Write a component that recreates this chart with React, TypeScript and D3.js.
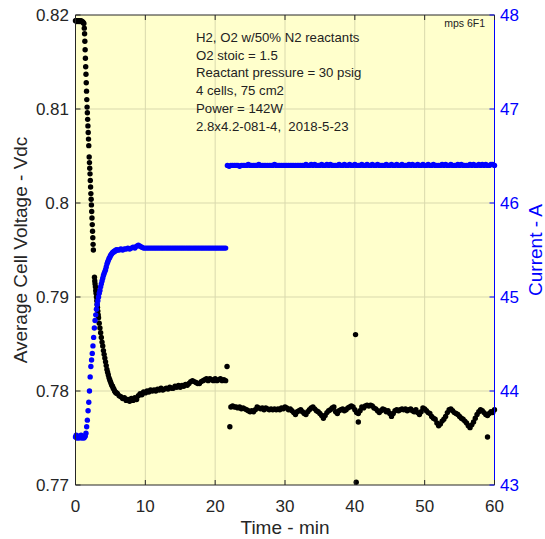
import React from "react";
import * as d3 from "d3";

// ---------- axes / labels ----------
const timeTicks = [0, 10, 20, 30, 40, 50, 60];
const voltTicks = [0.77, 0.78, 0.79, 0.8, 0.81, 0.82];
const voltTickLabels = ["0.77", "0.78", "0.79", "0.8", "0.81", "0.82"];
const currTicks = [43, 44, 45, 46, 47, 48];
const currTickLabels = ["43", "44", "45", "46", "47", "48"];
const xTitle = "Time - min";
const yLeftTitle = "Average Cell Voltage - Vdc";
const yRightTitle = "Current - A";
const cornerTag = "mps 6F1";
const annotationLines = [
  "H2, O2 w/50% N2 reactants",
  "O2 stoic = 1.5",
  "Reactant pressure = 30 psig",
  "4 cells, 75 cm2",
  "Power = 142W",
  "2.8x4.2-081-4,  2018-5-23",
];

// ---------- voltage (black, left axis) ----------
// early part, [time min, volts]
const voltEarly: [number, number][] = [
  [0.0, 0.8194], [0.1, 0.8194], [0.2, 0.8193], [0.3, 0.8194], [0.4, 0.8194], [0.5, 0.8193],
  [0.6, 0.8194], [0.7, 0.8193], [0.8, 0.8194], [0.9, 0.8193], [1.0, 0.8193], [1.1, 0.8192],
  [1.2, 0.8191], [1.26, 0.8186], [1.3, 0.818], [1.34, 0.8172], [1.38, 0.8163], [1.42, 0.8154],
  [1.46, 0.8145], [1.5, 0.8137], [1.54, 0.8128], [1.58, 0.8119], [1.62, 0.811], [1.66, 0.8102],
  [1.7, 0.8096], [1.74, 0.8089], [1.78, 0.8082], [1.82, 0.8075], [1.86, 0.8068], [1.9, 0.8061],
  [1.96, 0.8049], [2.0, 0.8043], [2.04, 0.8037], [2.08, 0.8031], [2.12, 0.8024], [2.16, 0.8017],
  [2.2, 0.801], [2.24, 0.8004], [2.28, 0.7998], [2.32, 0.7991], [2.36, 0.7984], [2.4, 0.7977],
  [2.44, 0.797], [2.48, 0.7963], [2.52, 0.7956], [2.56, 0.795],
  [2.72, 0.7921], [2.76, 0.7917], [2.8, 0.7914], [2.85, 0.7911], [2.9, 0.7907], [2.95, 0.7904],
  [3.0, 0.79], [3.05, 0.7896], [3.1, 0.7892], [3.15, 0.7889], [3.2, 0.7885], [3.25, 0.7881],
  [3.3, 0.7878], [3.4, 0.7872], [3.5, 0.7867], [3.6, 0.7862], [3.7, 0.7857], [3.8, 0.7852],
  [3.9, 0.7848], [4.0, 0.7843], [4.1, 0.7839], [4.2, 0.7835], [4.3, 0.7831], [4.4, 0.7827],
  [4.5, 0.7823], [4.6, 0.782], [4.7, 0.7817], [4.8, 0.7814], [4.9, 0.7812], [5.0, 0.781],
  [5.1, 0.7808], [5.2, 0.7806], [5.3, 0.7805], [5.4, 0.7803], [5.5, 0.7802], [5.6, 0.78],
  [5.7, 0.7799], [5.8, 0.7798], [5.9, 0.7798],
];
// 6.00 .. 21.50 min every 0.25 min
const voltMidStart = 6.0;
const voltMid = [
  0.7797, 0.7795, 0.7794, 0.7792,
  0.7793, 0.779, 0.7791, 0.7789,
  0.7792, 0.779, 0.7793, 0.7791,
  0.7795, 0.7797, 0.7796, 0.7799,
  0.7798, 0.78, 0.7799, 0.7801,
  0.78, 0.7801, 0.78, 0.7802,
  0.7801, 0.7803, 0.7801, 0.7802,
  0.7803, 0.7802, 0.7804, 0.7803,
  0.7803, 0.7805, 0.7804, 0.7806,
  0.7804, 0.7806, 0.7805, 0.7807,
  0.7806, 0.7808, 0.781, 0.7811,
  0.781, 0.7809, 0.7808, 0.7808,
  0.781, 0.7811, 0.7812, 0.7813,
  0.7811, 0.7813, 0.7812, 0.7811,
  0.7813, 0.7811, 0.7812, 0.7813,
  0.7811, 0.7812, 0.7811,
];
// 22.25 .. 60.00 min every 0.25 min
const voltLateStart = 22.25;
const voltLate = [
  0.7783, 0.7784, 0.7783,
  0.7783, 0.7782, 0.7783, 0.7781, // 23
  0.7782, 0.7781, 0.778, 0.7779, // 24
  0.7778, 0.7779, 0.7778, 0.778, // 25
  0.7783, 0.7782, 0.7781, 0.7782, // 26
  0.778, 0.7782, 0.7781, 0.778, // 27
  0.7781, 0.778, 0.7781, 0.778, // 28
  0.7781, 0.778, 0.7782, 0.7781, // 29
  0.7783, 0.7782, 0.778, 0.7781, // 30
  0.7779, 0.7777, 0.7775, 0.7778, // 31
  0.7779, 0.778, 0.7778, 0.7776, // 32
  0.7775, 0.7778, 0.778, 0.7782, // 33
  0.7783, 0.7781, 0.7779, 0.7778, // 34
  0.7776, 0.7774, 0.7771, 0.7774, // 35
  0.7777, 0.7779, 0.778, 0.7782, // 36
  0.7783, 0.7778, 0.7776, 0.7779, // 37
  0.778, 0.7781, 0.7779, 0.778, // 38
  0.7782, 0.7783, 0.7784, 0.7783, // 39
  0.778, 0.7777, 0.7776, 0.7779, // 40
  0.7783, 0.7782, 0.7784, 0.7785, // 41
  0.7784, 0.7785, 0.7784, 0.7782, // 42
  0.7781, 0.7779, 0.7777, 0.7779, // 43
  0.7781, 0.778, 0.7778, 0.7779, // 44
  0.7776, 0.7773, 0.7776, 0.7779, // 45
  0.778, 0.7779, 0.778, 0.7781, // 46
  0.778, 0.7781, 0.7779, 0.778, // 47
  0.7781, 0.7779, 0.7778, 0.778, // 48
  0.7777, 0.7775, 0.7778, 0.7782, // 49
  0.7781, 0.7779, 0.7777, 0.7776, // 50
  0.7773, 0.7771, 0.777, 0.7766, // 51
  0.7763, 0.7765, 0.7768, 0.777, // 52
  0.7773, 0.7777, 0.778, 0.7781, // 53
  0.7779, 0.7777, 0.7776, 0.7775, // 54
  0.7773, 0.7771, 0.777, 0.7768, // 55
  0.7766, 0.7763, 0.7761, 0.7764, // 56
  0.7767, 0.7771, 0.7775, 0.7778, // 57
  0.778, 0.7779, 0.7777, 0.7775, // 58
  0.7774, 0.7776, 0.7778, 0.7777, // 59
  0.778,
];
const voltOutliers: [number, number][] = [
  [21.7, 0.7826], [22.1, 0.7762], [40.1, 0.786], [40.2, 0.7703], [40.5, 0.7767], [59.0, 0.7751],
];

// ---------- current (blue, right axis) ----------
const currEarly: [number, number][] = [
  [0.0, 43.51], [0.1, 43.53], [0.2, 43.5], [0.3, 43.52], [0.4, 43.51], [0.5, 43.5],
  [0.6, 43.52], [0.7, 43.51], [0.8, 43.53], [0.9, 43.5], [1.0, 43.51], [1.1, 43.52],
  [1.2, 43.5], [1.3, 43.51], [1.4, 43.52], [1.5, 43.55], [1.6, 43.62], [1.7, 43.69],
  [1.8, 43.79], [1.9, 43.88], [2.0, 44.0], [2.1, 44.15], [2.2, 44.26], [2.3, 44.33],
  [2.4, 44.4], [2.5, 44.48], [2.6, 44.57], [2.7, 44.67], [2.8, 44.75], [2.9, 44.81],
  [3.0, 44.87], [3.1, 44.92], [3.2, 44.96], [3.3, 45.0], [3.4, 45.04], [3.5, 45.07],
  [3.6, 45.11], [3.7, 45.14], [3.8, 45.17], [3.9, 45.2], [4.0, 45.23], [4.1, 45.25],
  [4.2, 45.27], [4.3, 45.29], [4.4, 45.32], [4.5, 45.35], [4.6, 45.37], [4.7, 45.39],
  [4.8, 45.41], [4.9, 45.42], [5.0, 45.44], [5.1, 45.45], [5.2, 45.46], [5.3, 45.47],
  [5.4, 45.48], [5.5, 45.48], [5.6, 45.49], [5.7, 45.49], [5.8, 45.5], [5.9, 45.5],
];
// 6.00 .. 21.50 min every 0.25 min
const currMidStart = 6.0;
const currMid = [
  45.5, 45.5, 45.51, 45.5,
  45.51, 45.51, 45.52, 45.51,
  45.52, 45.53, 45.52, 45.54,
  45.55, 45.54, 45.53, 45.52,
  45.52, 45.52, 45.52, 45.52,
  45.52, 45.52, 45.52, 45.52,
  45.52, 45.52, 45.52, 45.52,
  45.52, 45.52, 45.52, 45.52,
  45.52, 45.52, 45.52, 45.52,
  45.52, 45.52, 45.52, 45.52,
  45.52, 45.52, 45.52, 45.52,
  45.52, 45.52, 45.52, 45.52,
  45.52, 45.52, 45.52, 45.52,
  45.52, 45.52, 45.52, 45.52,
  45.52, 45.52, 45.52, 45.52,
  45.52, 45.52, 45.52,
];
// 21.75 .. 60.00 min every 0.25 min
const currLateStart = 21.75;
const currLate = [
  46.4,
  46.39, 46.4, 46.4, 46.4, // 22
  46.4, 46.4, 46.39, 46.4, // 23
  46.4, 46.4, 46.4, 46.41, // 24
  46.4, 46.4, 46.4, 46.4, // 25
  46.4, 46.41, 46.4, 46.4, // 26
  46.4, 46.4, 46.4, 46.4, // 27
  46.4, 46.4, 46.41, 46.4, // 28
  46.4, 46.4, 46.4, 46.4, // 29
  46.4, 46.4, 46.4, 46.4, // 30
  46.4, 46.4, 46.4, 46.4, // 31
  46.4, 46.4, 46.4, 46.4, // 32
  46.41, 46.4, 46.4, 46.41, // 33
  46.4, 46.41, 46.4, 46.4, // 34
  46.4, 46.41, 46.4, 46.4, // 35
  46.41, 46.4, 46.41, 46.4, // 36
  46.4, 46.4, 46.4, 46.41, // 37
  46.4, 46.4, 46.41, 46.4, // 38
  46.4, 46.41, 46.4, 46.4, // 39
  46.41, 46.4, 46.4, 46.4, // 40
  46.41, 46.4, 46.4, 46.41, // 41
  46.4, 46.4, 46.41, 46.4, // 42
  46.4, 46.41, 46.4, 46.4, // 43
  46.4, 46.4, 46.41, 46.4, // 44
  46.4, 46.41, 46.4, 46.4, // 45
  46.41, 46.4, 46.4, 46.41, // 46
  46.4, 46.4, 46.4, 46.41, // 47
  46.4, 46.41, 46.4, 46.4, // 48
  46.41, 46.4, 46.4, 46.41, // 49
  46.4, 46.4, 46.41, 46.4, // 50
  46.4, 46.41, 46.4, 46.4, // 51
  46.4, 46.4, 46.41, 46.4, // 52
  46.41, 46.4, 46.4, 46.41, // 53
  46.4, 46.4, 46.4, 46.41, // 54
  46.4, 46.41, 46.4, 46.4, // 55
  46.4, 46.4, 46.41, 46.4, // 56
  46.41, 46.4, 46.4, 46.41, // 57
  46.4, 46.41, 46.4, 46.41, // 58
  46.4, 46.4, 46.41, 46.41, // 59
  46.4,
];
const sampleStep = 0.25;

const W = 545;
const H = 539;
const FONT = "'Liberation Sans', Arial, Helvetica, sans-serif";

function sampled(start: number, vals: number[]): [number, number][] {
  return vals.map((v, i) => [start + i * sampleStep, v] as [number, number]);
}

export default function App() {
  const margin = { left: 75.5, right: 494.5, top: 15, bottom: 485 };
  const x = d3.scaleLinear().domain([0, 60]).range([margin.left, margin.right]);
  const yL = d3.scaleLinear().domain([0.77, 0.82]).range([margin.bottom, margin.top]);
  const yR = d3.scaleLinear().domain([43, 48]).range([margin.bottom, margin.top]);

  const voltPts = [
    ...voltEarly,
    ...sampled(voltMidStart, voltMid),
    ...sampled(voltLateStart, voltLate),
    ...voltOutliers,
  ];
  const currPts = [
    ...currEarly,
    ...sampled(currMidStart, currMid),
    ...sampled(currLateStart, currLate),
  ];

  const gridColor = "#d9d9ad";
  const tickLen = 5;
  const axisColor = "#262626";
  const blue = "#0000ff";
  const r = 2.7;

  return (
    <svg
      width={W}
      height={H}
      style={{ position: "absolute", left: 0, top: 0, background: "#fff" }}
      fontFamily={FONT}
    >
      <rect
        x={margin.left}
        y={margin.top}
        width={margin.right - margin.left}
        height={margin.bottom - margin.top}
        fill="#ffffcc"
      />
      {/* grid */}
      {timeTicks.slice(1, -1).map((t) => (
        <line key={"gx" + t} x1={x(t)} x2={x(t)} y1={margin.top} y2={margin.bottom} stroke={gridColor} strokeWidth={1} />
      ))}
      {voltTicks.slice(1, -1).map((v) => (
        <line key={"gy" + v} x1={margin.left} x2={margin.right} y1={yL(v)} y2={yL(v)} stroke={gridColor} strokeWidth={1} />
      ))}

      {/* voltage points */}
      <g fill="#000">
        {voltPts.map((d, i) => (
          <circle key={"v" + i} cx={x(d[0])} cy={yL(d[1])} r={r} />
        ))}
      </g>
      {/* current points */}
      <g fill={blue}>
        {currPts.map((d, i) => (
          <circle key={"c" + i} cx={x(d[0])} cy={yR(d[1])} r={r} />
        ))}
      </g>

      {/* axes lines */}
      <line x1={margin.left} x2={margin.right} y1={margin.bottom} y2={margin.bottom} stroke={axisColor} />
      <line x1={margin.left} x2={margin.right} y1={margin.top} y2={margin.top} stroke={axisColor} />
      <line x1={margin.left} x2={margin.left} y1={margin.top} y2={margin.bottom} stroke={axisColor} />
      <line x1={margin.right} x2={margin.right} y1={margin.top} y2={margin.bottom} stroke={blue} />

      {/* x ticks */}
      {timeTicks.map((t) => (
        <g key={"xt" + t}>
          <line x1={x(t)} x2={x(t)} y1={margin.bottom} y2={margin.bottom - tickLen} stroke={axisColor} />
          <line x1={x(t)} x2={x(t)} y1={margin.top} y2={margin.top + tickLen} stroke={axisColor} />
          <text x={x(t)} y={512} textAnchor="middle" fontSize={17} fill={axisColor}>
            {t}
          </text>
        </g>
      ))}
      {/* left ticks */}
      {voltTicks.map((v, i) => (
        <g key={"yl" + v}>
          <line x1={margin.left} x2={margin.left + tickLen} y1={yL(v)} y2={yL(v)} stroke={axisColor} />
          <text x={69} y={yL(v) + 6} textAnchor="end" fontSize={17} fill={axisColor}>
            {voltTickLabels[i]}
          </text>
        </g>
      ))}
      {/* right ticks */}
      {currTicks.map((c, i) => (
        <g key={"yr" + c}>
          <line x1={margin.right} x2={margin.right - tickLen} y1={yR(c)} y2={yR(c)} stroke={blue} />
          <text x={500} y={yR(c) + 6} textAnchor="start" fontSize={17} fill={blue}>
            {currTickLabels[i]}
          </text>
        </g>
      ))}

      {/* axis titles */}
      <text x={(margin.left + margin.right) / 2} y={534} textAnchor="middle" fontSize={19} fill={axisColor}>
        {xTitle}
      </text>
      <text
        transform={`translate(27,${(margin.top + margin.bottom) / 2}) rotate(-90)`}
        textAnchor="middle"
        fontSize={19}
        fill={axisColor}
      >
        {yLeftTitle}
      </text>
      <text
        transform={`translate(542,${(margin.top + margin.bottom) / 2}) rotate(-90)`}
        textAnchor="middle"
        fontSize={19}
        fill={blue}
      >
        {yRightTitle}
      </text>

      {/* annotations */}
      <text x={485} y={27} textAnchor="end" fontSize={10.5} fill="#222">
        {cornerTag}
      </text>
      {annotationLines.map((s, i) => (
        <text
          key={"an" + i}
          x={196}
          y={41.7 + i * 17.8}
          fontSize={13.2}
          fill="#222"
          style={{ whiteSpace: "pre" }}
        >
          {s}
        </text>
      ))}
    </svg>
  );
}
